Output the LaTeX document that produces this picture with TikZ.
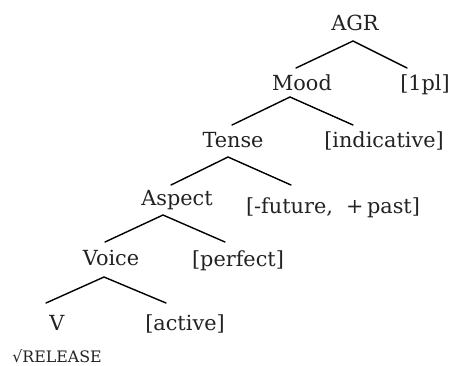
\documentclass[tikz,border=0pt]{standalone}
\usepackage{fontspec}
\setmainfont{DejaVu Serif}
\definecolor{ink}{HTML}{222222}
\tikzset{
  lbl/.style={anchor=base, inner sep=0pt, text=ink, font=\fontsize{20.8}{24}\selectfont},
  small/.style={anchor=base, inner sep=0pt, text=ink, font=\fontsize{15.8}{18}\selectfont},
  branch/.style={draw=black, line width=1.4pt, line cap=round}
}
\begin{document}
\begin{tikzpicture}[x=1pt,y=-1pt]
\useasboundingbox (0,0) rectangle (454,365);
% labels
\node[lbl] (agr) at (355,30) {AGR};
\node[lbl] (mood) at (302,90) {Mood};
\node[lbl] (pl) at (425,90) {[1pl]};
\node[lbl] (tense) at (233,147) {Tense};
\node[lbl] (ind) at (384,147) {[indicative]};
\node[lbl] (aspect) at (177,205) {Aspect};
\node[lbl] (fut) at (333,213) {[-future,\ \ +\,past]};
\node[lbl] (voice) at (111,265) {Voice};
\node[lbl] (perf) at (238,266) {[perfect]};
\node[lbl] (v) at (57,330) {V};
\node[lbl] (act) at (185,330) {[active]};
\node[small] (root) at (57,362) {√RELEASE};
% branch points
\coordinate (a0) at (353,41);  \coordinate (a1) at (296,68);  \coordinate (a2) at (407,68);
\coordinate (m0) at (290,97);  \coordinate (m1) at (232,125); \coordinate (m2) at (353,125);
\coordinate (t0) at (228,157); \coordinate (t1) at (171,185); \coordinate (t2) at (291,185);
\coordinate (s0) at (163,215); \coordinate (s1) at (105,242); \coordinate (s2) at (225,242);
\coordinate (v0) at (104,277); \coordinate (v1) at (46,303);  \coordinate (v2) at (166,303);
\draw[branch] (a1) -- (a0) -- (a2);
\draw[branch] (m1) -- (m0) -- (m2);
\draw[branch] (t1) -- (t0) -- (t2);
\draw[branch] (s1) -- (s0) -- (s2);
\draw[branch] (v1) -- (v0) -- (v2);
\end{tikzpicture}
\end{document}
